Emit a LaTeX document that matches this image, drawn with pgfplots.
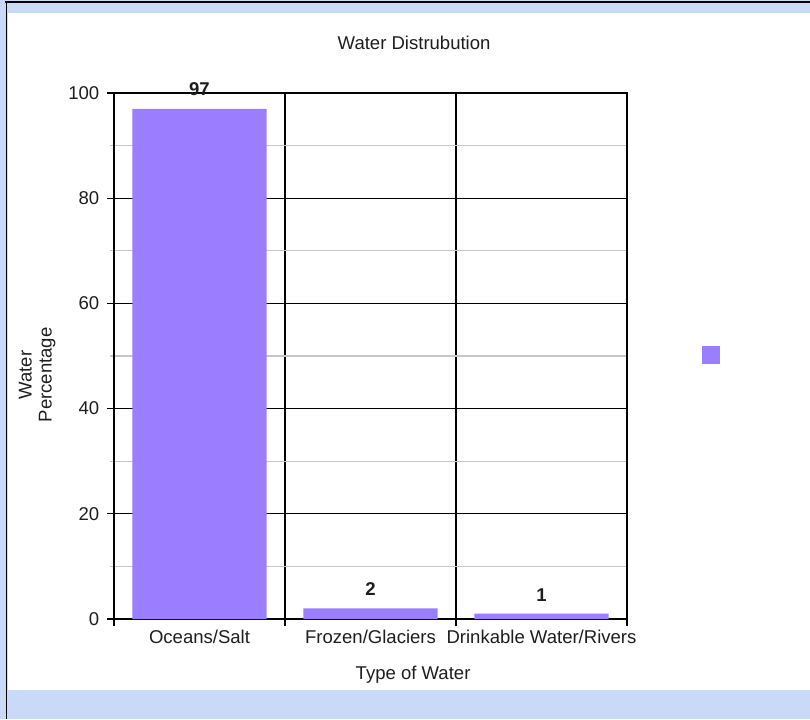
\documentclass[border=0pt]{standalone}
\usepackage{fontspec}
\setmainfont{Liberation Sans}
\usepackage{pgfplots}
\pgfplotsset{compat=1.18}
\definecolor{barc}{RGB}{155,125,255}
\definecolor{bandc}{RGB}{201,218,248}
\definecolor{txt}{RGB}{30,30,30}
\newcommand\cf{\fontsize{13.9}{15}\selectfont}
\begin{document}
\begin{tikzpicture}[x=0.75pt,y=0.75pt]
\useasboundingbox (0,0) rectangle (810,719);
\fill[bandc] (0,0) rectangle (810,719);
\fill[white] (8,29) rectangle (810,706);
\draw[black,line width=1.5pt] (5,717) -- (810,717);
\draw[black,line width=1.1pt] (6.5,717) -- (6.5,0);
\begin{axis}[
  at={(85.5pt,75pt)}, anchor=south west, scale only axis,
  width=384.75pt, height=394.5pt,
  xmin=-0.5, xmax=2.5, ymin=0, ymax=100,
  axis line style={black, line width=0.8pt},
  ytick={0,20,...,100},
  minor y tick num=1,
  ymajorgrids, yminorgrids, xmajorgrids,
  major grid style={black, line width=0.8pt},
  minor grid style={gray!45, line width=0.8pt},
  tick align=outside,
  tick pos=left,
  major tick length=5pt,
  minor tick length=3pt,
  tick style={black, line width=0.8pt},
  minor tick style={gray!45},
  xtick={-0.5,0.5,1.5,2.5},
  x tick label as interval,
  xticklabels={Oceans/Salt, Frozen/Glaciers, Drinkable Water/Rivers},
  yticklabel shift=2.5pt,
  /pgf/number format/assume math mode=true,
  every tick label/.append style={font=\cf, text=txt},
  title={Water Distrubution},
  title style={font=\cf, text=txt, at={(rel axis cs:0.585,1.080)}, anchor=center},
  xlabel={Type of Water},
  xlabel style={font=\cf, text=txt, at={(rel axis cs:0.583,-0.1065)}, anchor=center},
  ylabel={Water\\Percentage},
  ylabel style={font=\cf, text=txt, align=center, at={(rel axis cs:-0.150,0.464)}, anchor=center},
  ybar, bar width=0.784,
  nodes near coords,
  nodes near coords style={font=\cf\bfseries, text=txt, yshift=6pt},
  legend style={at={(rel axis cs:1.168,0.501)}, anchor=center, draw=none, fill=none},
  legend image code/.code={\fill[barc] (0pt,-6.75pt) rectangle (13.5pt,6.75pt);},
]
\addplot[fill=barc, draw=none] coordinates {(0,97) (1,2) (2,1)};
\addlegendentry{}
\end{axis}
\end{tikzpicture}
\end{document}
